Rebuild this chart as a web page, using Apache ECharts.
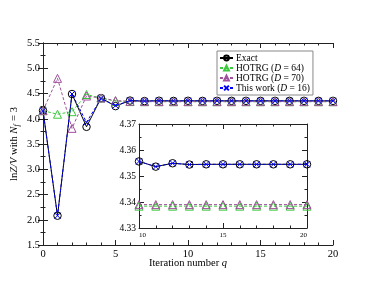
<!DOCTYPE html>
<html><head><meta charset="utf-8">
<script src="https://cdn.jsdelivr.net/npm/echarts@6/dist/echarts.min.js"></script>
<style>html,body{margin:0;padding:0;background:#fff}#c{width:374px;height:289px}</style>
</head><body><div id="c"></div>
<script>
var iterations = [0,1,2,3,4,5,6,7,8,9,10,11,12,13,14,15,16,17,18,19,20];
var exact   = [4.16,2.08,4.49,3.84,4.41,4.25,4.36,4.350,4.357,4.353,4.3556,4.3536,4.3549,4.3544,4.3545,4.3545,4.3545,4.3545,4.3545,4.3545,4.3545];
var hotrg64 = [4.16,4.09,4.14,4.48,4.41,4.35,4.34,4.339,4.3386,4.3385,4.3384,4.3384,4.3384,4.3384,4.3384,4.3384,4.3384,4.3384,4.3384,4.3384,4.3384];
var hotrg70 = [4.16,4.80,3.81,4.45,4.41,4.36,4.345,4.340,4.3392,4.3391,4.3390,4.3390,4.3390,4.3390,4.3390,4.3390,4.3390,4.3390,4.3390,4.3390,4.3390];
var thisWork= [4.16,2.08,4.49,3.93,4.40,4.26,4.36,4.350,4.357,4.353,4.3556,4.3536,4.3549,4.3544,4.3545,4.3545,4.3545,4.3545,4.3545,4.3545,4.3545];
var xTicksMain = [0,5,10,15,20];
var yTicksMain = [1.5,2.0,2.5,3.0,3.5,4.0,4.5,5.0,5.5];
var insetStart = 10;

var FONT = 'Liberation Serif';
var C = {exact:'#000000', h64:'#3cc83c', h70:'#a0509c', tw:'#0000ff'};
function pairs(arr, from){ var o=[]; for(var i=0;i<iterations.length;i++){ if(iterations[i]>=from) o.push([iterations[i],arr[i]]); } return o; }

var chart = echarts.init(document.getElementById('c'), null, {renderer:'canvas'});
var axLine = {show:true, lineStyle:{color:'#222', width:1}};
function xa(grid, min, max, interval, pos, showLabel, fs, extra){
  var a = {type:'value', gridIndex:grid, min:min, max:max, interval:interval, position:pos,
    axisLine:axLine, axisTick:{show:true, inside:true, length:5, lineStyle:{color:'#222'}},
    minorTick:{show:true, splitNumber:5, length:2.5, lineStyle:{color:'#222'}},
    splitLine:{show:false}, minorSplitLine:{show:false},
    axisLabel:{show:showLabel, fontFamily:FONT, fontSize:fs, color:'#000', margin:4}};
  for (var k in extra) a[k]=extra[k];
  return a;
}
function ya(grid, min, max, interval, pos, showLabel, fs, split, extra){
  var a = {type:'value', gridIndex:grid, min:min, max:max, interval:interval, position:pos,
    axisLine:axLine, axisTick:{show:true, inside:true, length:5, lineStyle:{color:'#222'}},
    minorTick:{show:true, splitNumber:split, length:2.5, lineStyle:{color:'#222'}},
    splitLine:{show:false}, minorSplitLine:{show:false},
    axisLabel:{show:showLabel, fontFamily:FONT, fontSize:fs, color:'#000', margin:3}};
  for (var k in extra) a[k]=extra[k];
  return a;
}
var sym = {
  exact:{symbol:'circle', symbolSize:7.5},
  h64:{symbol:'triangle', symbolSize:8},
  h70:{symbol:'triangle', symbolSize:8},
  tw:{symbol:'path://M0,0L10,10M10,0L0,10', symbolSize:6}
};
function series(name, arr, key, xi, yi, dash, from){
  return {name: name, type:'line', xAxisIndex:xi, yAxisIndex:yi, data:pairs(arr, from),
    symbol:sym[key].symbol, symbolSize:sym[key].symbolSize, showAllSymbol:true,
    lineStyle:{color:C[key], width:1, type: dash? [3,2] : 'solid'},
    itemStyle:{color: key==='tw' ? C[key] : 'rgba(255,255,255,0)', borderColor:C[key], borderWidth:1},
    emphasis:{disabled:true},
    animation:false, z: key==='tw'?5:3, clip:true};
}
var names = {exact:'Exact', h64:'HOTRG (D = 64)', h70:'HOTRG (D = 70)', tw:'This work (D = 16)'};
var legendFmt = {'Exact':'Exact','HOTRG (D = 64)':'HOTRG ({i|D} = 64)','HOTRG (D = 70)':'HOTRG ({i|D} = 70)','This work (D = 16)':'This work ({i|D} = 16)'};

var option = {
  backgroundColor:'#fff',
  animation:false,
  grid:[
    {left:43, top:43, width:290, height:202, show:false},
    {left:139, top:124, width:168, height:104, show:true, backgroundColor:'#fff', borderWidth:0}
  ],
  xAxis:[
    xa(0, xTicksMain[0], xTicksMain[xTicksMain.length-1], 5, 'bottom', true, 10.5,
      {name:'Iteration number {i|q}', nameLocation:'middle', nameGap:13, nameMoveOverlap:false,
       nameTextStyle:{fontFamily:FONT, fontSize:10.5, color:'#000', rich:{i:{fontFamily:FONT, fontStyle:'italic', fontSize:10.5}}}}),
    xa(0, 0, 20, 5, 'top', false, 10, {}),
    xa(1, insetStart, 20, 5, 'bottom', true, 7, {axisLabel:{show:true, fontFamily:FONT, fontSize:7, color:'#000', margin:4, alignMinLabel:'left', alignMaxLabel:'right'}}),
    xa(1, insetStart, 20, 5, 'top', false, 7, {})
  ],
  yAxis:[
    ya(0, yTicksMain[0], yTicksMain[yTicksMain.length-1], 0.5, 'left', true, 10.5, 2,
      {name:'{r|ln}{i|Z/V}{r| with }{i|N}{s|f}{r| = 3}', nameLocation:'middle', nameGap:22, nameRotate:90, nameMoveOverlap:false,
       axisLabel:{show:true, fontFamily:FONT, fontSize:10.5, color:'#000', margin:3, formatter:function(v){return v.toFixed(1);}},
       nameTextStyle:{fontFamily:FONT, fontSize:10.5, color:'#000',
        rich:{r:{fontFamily:FONT, fontSize:10.5}, i:{fontFamily:FONT, fontStyle:'italic', fontSize:10.5},
              s:{fontFamily:FONT, fontStyle:'italic', fontSize:7.5, padding:[5,1,0,0]}}}}),
    ya(0, 1.5, 5.5, 0.5, 'right', false, 10, 2, {}),
    ya(1, 4.33, 4.37, 0.01, 'left', true, 9.5, 2, {axisLabel:{show:true, fontFamily:FONT, fontSize:9.5, color:'#000', margin:3, formatter:function(v){return v.toFixed(2);}}}),
    ya(1, 4.33, 4.37, 0.01, 'right', false, 9, 2, {})
  ],
  legend:{
    show:true, orient:'vertical', left:217, top:51, padding:[2,3,2,2], itemGap:0,
    itemWidth:13, itemHeight:6, borderColor:'#888', borderWidth:1, backgroundColor:'#fff',
    data:[names.exact, names.h64, names.h70, names.tw],
    formatter:function(n){return legendFmt[n];},
    selectedMode:false,
    textStyle:{fontFamily:FONT, fontSize:9.5, lineHeight:9.8, color:'#000', padding:[0,0,0,-2],
      rich:{i:{fontFamily:FONT, fontStyle:'italic', fontSize:9.5, lineHeight:9.8}}}
  },
  series:[
    series(names.exact, exact, 'exact', 0, 0, false, 0),
    series(names.h64, hotrg64, 'h64', 0, 0, true, 0),
    series(names.h70, hotrg70, 'h70', 0, 0, true, 0),
    series(names.tw, thisWork, 'tw', 0, 0, true, 0),
    series(names.exact, exact, 'exact', 2, 2, false, insetStart),
    series(names.h64, hotrg64, 'h64', 2, 2, true, insetStart),
    series(names.h70, hotrg70, 'h70', 2, 2, true, insetStart),
    series(names.tw, thisWork, 'tw', 2, 2, true, insetStart)
  ]
};
chart.setOption(option);
</script></body></html>
